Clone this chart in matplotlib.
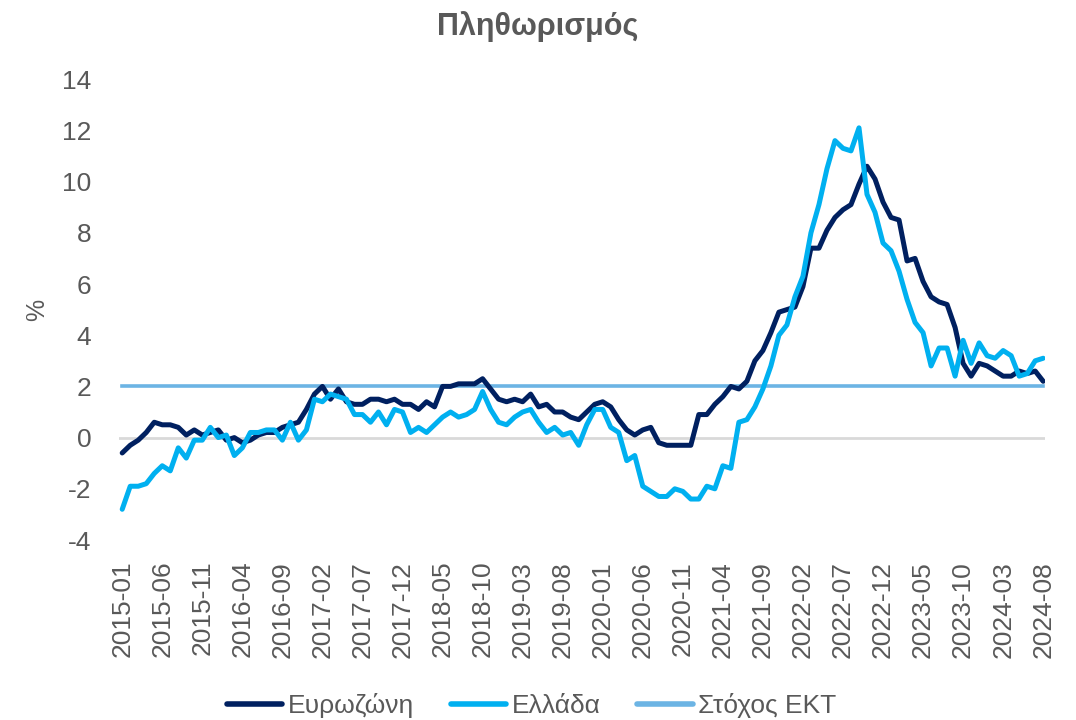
import matplotlib.pyplot as plt
import numpy as np

plt.rcParams['font.family'] = ['Liberation Sans', 'DejaVu Sans']
plt.rcParams['axes.unicode_minus'] = False

# monthly, 2015-01 .. 2024-08
months = [f"{y}-{m:02d}" for y in range(2015, 2025) for m in range(1, 13)][:116]

eurozone = [
    -0.6, -0.3, -0.1, 0.2, 0.6, 0.5, 0.5, 0.4, 0.1, 0.3, 0.1, 0.2,
    0.3, -0.1, 0.0, -0.2, -0.1, 0.1, 0.2, 0.2, 0.4, 0.5, 0.6, 1.1,
    1.7, 2.0, 1.5, 1.9, 1.4, 1.3, 1.3, 1.5, 1.5, 1.4, 1.5, 1.3,
    1.3, 1.1, 1.4, 1.2, 2.0, 2.0, 2.1, 2.1, 2.1, 2.3, 1.9, 1.5,
    1.4, 1.5, 1.4, 1.7, 1.2, 1.3, 1.0, 1.0, 0.8, 0.7, 1.0, 1.3,
    1.4, 1.2, 0.7, 0.3, 0.1, 0.3, 0.4, -0.2, -0.3, -0.3, -0.3, -0.3,
    0.9, 0.9, 1.3, 1.6, 2.0, 1.9, 2.2, 3.0, 3.4, 4.1, 4.9, 5.0,
    5.1, 5.9, 7.4, 7.4, 8.1, 8.6, 8.9, 9.1, 9.9, 10.6, 10.1, 9.2,
    8.6, 8.5, 6.9, 7.0, 6.1, 5.5, 5.3, 5.2, 4.3, 2.9, 2.4, 2.9,
    2.8, 2.6, 2.4, 2.4, 2.6, 2.5, 2.6, 2.2,
]

greece = [
    -2.8, -1.9, -1.9, -1.8, -1.4, -1.1, -1.3, -0.4, -0.8, -0.1, -0.1, 0.4,
    0.0, 0.1, -0.7, -0.4, 0.2, 0.2, 0.3, 0.3, -0.1, 0.6, -0.1, 0.3,
    1.5, 1.4, 1.7, 1.6, 1.5, 0.9, 0.9, 0.6, 1.0, 0.5, 1.1, 1.0,
    0.2, 0.4, 0.2, 0.5, 0.8, 1.0, 0.8, 0.9, 1.1, 1.8, 1.1, 0.6,
    0.5, 0.8, 1.0, 1.1, 0.6, 0.2, 0.4, 0.1, 0.2, -0.3, 0.5, 1.1,
    1.1, 0.4, 0.2, -0.9, -0.7, -1.9, -2.1, -2.3, -2.3, -2.0, -2.1, -2.4,
    -2.4, -1.9, -2.0, -1.1, -1.2, 0.6, 0.7, 1.2, 1.9, 2.8, 4.0, 4.4,
    5.5, 6.3, 8.0, 9.1, 10.5, 11.6, 11.3, 11.2, 12.1, 9.5, 8.8, 7.6,
    7.3, 6.5, 5.4, 4.5, 4.1, 2.8, 3.5, 3.5, 2.4, 3.8, 2.9, 3.7,
    3.2, 3.1, 3.4, 3.2, 2.4, 2.5, 3.0, 3.1,
]

ecb_target = [2.0] * len(months)

labels = ["Ευρωζώνη", "Ελλάδα", "Στόχος ΕΚΤ"]
colors = ["#002060", "#00b0f0", "#6cb4e4"]

text_col = "#595959"

fig = plt.figure(figsize=(10.76, 7.2), dpi=100)
ax = fig.add_axes([0.1106, 0.25, 0.8604, 0.64])

x = np.arange(len(months))
ax.axhline(0, color="#d9d9d9", lw=2, zorder=1)
ax.plot(x, eurozone, color=colors[0], lw=3.6, label=labels[0], zorder=3,
        solid_capstyle="round", solid_joinstyle="round")
ax.plot(x, greece, color=colors[1], lw=3.6, label=labels[1], zorder=4,
        solid_capstyle="round", solid_joinstyle="round")
ax.plot(x, ecb_target, color=colors[2], lw=2.6, label=labels[2], zorder=2)

ax.set_xlim(-0.4, len(months) - 0.8)
ax.set_ylim(-4, 14)
ax.set_yticks(range(-4, 15, 2))
ax.set_xticks(x[::5])
ax.set_xticklabels(months[::5], rotation=90)

for s in ax.spines.values():
    s.set_visible(False)
ax.tick_params(axis="both", length=0, labelsize=19, colors=text_col)
ax.tick_params(axis="y", pad=20)
ax.tick_params(axis="x", pad=15)

ax.set_ylabel("%", fontsize=18, color=text_col)
ax.yaxis.set_label_coords(-0.076, 0.5)

fig.text(0.5, 0.963, "Πληθωρισμός", ha="center", va="center", fontsize=22,
         fontweight="bold", color=text_col)

leg = fig.legend(loc="center", bbox_to_anchor=(0.494, 0.02), ncol=3, frameon=False,
                 fontsize=19, handlelength=2.1, columnspacing=1.4, handletextpad=0.2)
for t in leg.get_texts():
    t.set_color(text_col)
for h in leg.get_lines():
    h.set_linewidth(4)
    h.set_solid_capstyle("round")

fig.savefig("out.png", dpi=100)
